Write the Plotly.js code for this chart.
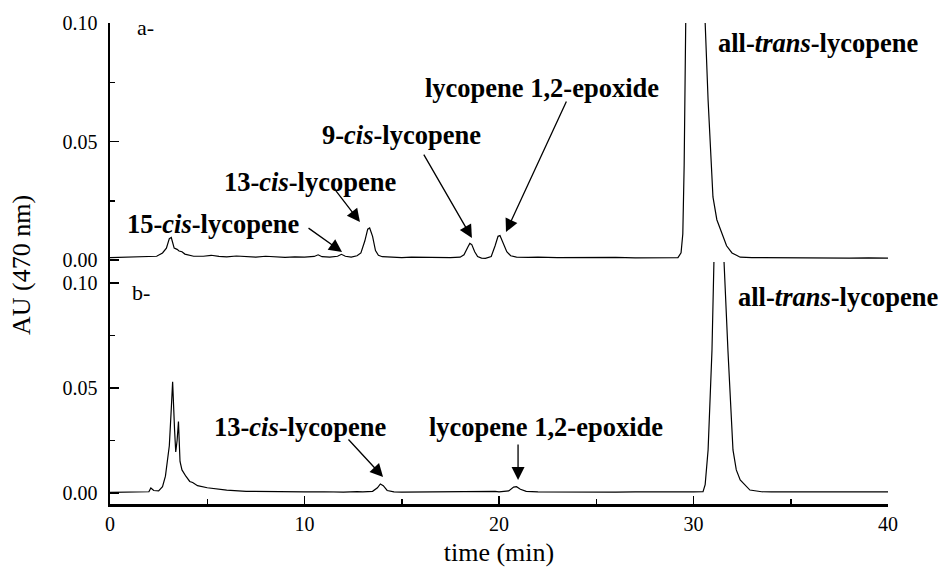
<!DOCTYPE html>
<html>
<head>
<meta charset="utf-8">
<script src="https://cdn.plot.ly/plotly-3.0.1.min.js"></script>
<style>html,body{margin:0;padding:0;background:#fff;}#chart{width:939px;height:574px;}</style>
</head>
<body>
<div id="chart"></div>
<script>
// Chromatogram a- (top panel): time (min) and absorbance (AU, 470 nm)
const timeA = [0.0,0.5,1.0,1.5,2.0,2.4,2.7,2.9,3.05,3.15,3.3,3.45,3.55,3.7,3.85,4.0,4.3,4.8,5.2,5.6,6.0,6.5,7.0,7.5,8.0,8.5,9.0,9.5,10.0,10.5,10.7,10.9,11.3,11.7,11.9,12.1,12.4,12.7,12.9,13.1,13.25,13.35,13.5,13.65,13.8,14.0,14.5,15.0,15.5,16.0,16.5,17.0,17.5,18.0,18.2,18.4,18.5,18.6,18.75,18.9,19.1,19.3,19.6,19.8,19.95,20.05,20.2,20.4,20.6,20.9,21.5,22.0,23.0,24.0,25.0,26.0,27.0,28.0,28.6,29.2,29.36,29.45,29.52,29.6,29.8,30.1,30.4,30.6,30.75,31.0,31.2,31.45,31.7,31.98,32.4,33.0,34.0,35.0,36.0,37.0,38.0,39.0,40.0];
const auA = [0.0010,0.0011,0.0012,0.0013,0.0012,0.0016,0.0030,0.0050,0.0090,0.0095,0.0050,0.0045,0.0038,0.0035,0.0025,0.0022,0.0016,0.0016,0.0020,0.0015,0.0013,0.0017,0.0014,0.0012,0.0016,0.0013,0.0011,0.0013,0.0012,0.0015,0.0022,0.0014,0.0012,0.0016,0.0024,0.0016,0.0012,0.0018,0.0030,0.0080,0.0130,0.0135,0.0100,0.0040,0.0020,0.0014,0.0012,0.0010,0.0012,0.0011,0.0010,0.0012,0.0010,0.0012,0.0022,0.0055,0.0070,0.0065,0.0035,0.0015,0.0008,0.0007,0.0015,0.0060,0.0100,0.0103,0.0075,0.0035,0.0018,0.0012,0.0011,0.0012,0.0010,0.0011,0.0010,0.0011,0.0009,0.0010,0.0010,0.0010,0.0030,0.0110,0.0400,0.1000,0.1800,0.2200,0.1600,0.1000,0.0675,0.0266,0.0170,0.0114,0.0060,0.0030,0.0012,0.0010,0.0009,0.0010,0.0008,0.0009,0.0008,0.0009,0.0008];

// Chromatogram b- (bottom panel)
const timeB = [0.0,1.0,2.0,2.1,2.25,2.5,2.7,2.85,2.95,3.0,3.05,3.15,3.22,3.32,3.38,3.45,3.52,3.6,3.7,3.9,4.1,4.25,4.5,5.0,5.5,6.0,7.0,8.0,9.0,10.0,11.0,12.0,12.7,13.0,13.5,13.75,13.9,14.05,14.25,14.6,15.0,16.0,17.0,18.0,19.0,19.8,20.0,20.5,20.75,20.9,21.1,21.4,22.0,23.0,24.0,25.0,26.0,27.0,28.0,29.0,30.0,30.49,30.6,30.75,30.95,31.05,31.15,31.3,31.45,31.57,31.77,32.03,32.2,32.4,32.9,33.5,34.0,35.0,36.0,37.0,38.0,39.0,40.0];
const auB = [0.0003,0.0004,0.0006,0.0024,0.0012,0.0010,0.0030,0.0080,0.0150,0.0210,0.0225,0.0400,0.0530,0.0300,0.0195,0.0250,0.0340,0.0150,0.0110,0.0080,0.0055,0.0050,0.0035,0.0025,0.0018,0.0014,0.0008,0.0006,0.0005,0.0005,0.0006,0.0004,0.0007,0.0005,0.0008,0.0025,0.0043,0.0035,0.0012,0.0005,0.0004,0.0005,0.0004,0.0006,0.0005,0.0008,0.0005,0.0010,0.0028,0.0030,0.0018,0.0008,0.0005,0.0004,0.0005,0.0004,0.0004,0.0005,0.0004,0.0004,0.0005,0.0006,0.0040,0.0205,0.0680,0.1100,0.1500,0.1700,0.1500,0.1100,0.0680,0.0205,0.0110,0.0062,0.0014,0.0006,0.0005,0.0005,0.0004,0.0005,0.0004,0.0005,0.0005];

// Tick values
const xTicks = [0, 10, 20, 30, 40];
const yTicks = [0.00, 0.05, 0.10];

// Peak labels
const labelPanels = ['y','y','y','y','y','y','y2','y2','y2','y2'];
const labelTexts = ['a-','<b>15-<i>cis</i>-lycopene</b>','<b>13-<i>cis</i>-lycopene</b>','<b>9-<i>cis</i>-lycopene</b>','<b>lycopene 1,2-epoxide</b>','<b>all-<i>trans</i>-lycopene</b>','b-','<b>all-<i>trans</i>-lycopene</b>','<b>13-<i>cis</i>-lycopene</b>','<b>lycopene 1,2-epoxide</b>'];
const labelX = [1.285, 0.77, 5.76, 19.18, 16.09, 31.16, 1.03, 32.19, 5.24, 16.30];
const labelY = [0.0983, 0.0152, 0.0329, 0.0527, 0.0726, 0.0916, 0.0957, 0.0933, 0.0314, 0.0314];
const labelAnchor = ['left','left','left','right','left','left','left','left','left','left'];

// Arrows: head (x,y) and tail (ax,ay) in data units
const arrowPanels = ['y','y','y','y','y2','y2'];
const arrowHeadX = [11.93, 12.85, 18.61, 20.36, 14.04, 20.98];
const arrowHeadY = [0.0034, 0.0160, 0.0093, 0.0118, 0.0076, 0.0062];
const arrowTailX = [10.13, 11.47, 16.09, 23.50, 12.19, 20.98];
const arrowTailY = [0.0139, 0.0308, 0.0451, 0.0675, 0.0262, 0.0238];

const FONT = 'Liberation Serif, Times New Roman, serif';

const traces = [
  {x: timeA, y: auA, xaxis: 'x', yaxis: 'y', mode: 'lines', line: {color: '#000', width: 1.2}, hoverinfo: 'skip'},
  {x: timeB, y: auB, xaxis: 'x', yaxis: 'y2', mode: 'lines', line: {color: '#000', width: 1.2}, hoverinfo: 'skip'}
];

const annotations = [];
for (let i = 0; i < labelTexts.length; i++) {
  const plain = labelTexts[i].indexOf('<b>') < 0;
  annotations.push({
    xref: 'x', yref: labelPanels[i], x: labelX[i], y: labelY[i],
    text: labelTexts[i], showarrow: false, xanchor: labelAnchor[i], yanchor: 'middle',
    font: {family: FONT, size: plain ? 22 : 26.5, color: '#000'}
  });
}
for (let i = 0; i < arrowHeadX.length; i++) {
  annotations.push({
    xref: 'x', yref: arrowPanels[i], x: arrowHeadX[i], y: arrowHeadY[i],
    axref: 'x', ayref: arrowPanels[i], ax: arrowTailX[i], ay: arrowTailY[i],
    text: '', showarrow: true, arrowhead: 2, arrowsize: 2.0, arrowwidth: 1.3,
    arrowcolor: '#000', standoff: 0, startstandoff: 0
  });
}
annotations.push({
  xref: 'paper', yref: 'paper', x: -0.113, y: 0.497, xanchor: 'center', yanchor: 'middle',
  text: 'AU (470 nm)', textangle: -90, showarrow: false,
  font: {family: FONT, size: 26, color: '#000'}
});

const yCommon = {
  showline: true, linecolor: '#000', linewidth: 2.5, ticks: 'inside', ticklen: 9, tickwidth: 1.5,
  tickcolor: '#000', tickvals: yTicks, tickformat: '.2f', showgrid: false, zeroline: false,
  tickfont: {family: FONT, size: 20, color: '#000'}, ticklabelstandoff: 6,
  minor: {ticks: 'inside', ticklen: 5, tickwidth: 1.5, tickcolor: '#000', dtick: 0.025, tick0: 0, showgrid: false},
  anchor: 'x', fixedrange: true
};

const layout = {
  width: 939, height: 574,
  margin: {l: 110, r: 51, t: 23, b: 70, pad: 0},
  paper_bgcolor: '#fff', plot_bgcolor: '#fff',
  showlegend: false,
  font: {family: FONT, color: '#000'},
  xaxis: {
    range: [0, 40], anchor: 'y2', showline: true, linecolor: '#000', linewidth: 2.5,
    ticks: 'inside', ticklen: 8, tickwidth: 1.5, tickcolor: '#000', tickvals: xTicks,
    showgrid: false, zeroline: false, tickfont: {family: FONT, size: 20, color: '#000'},
    minor: {ticks: 'inside', ticklen: 5, tickwidth: 1.5, tickcolor: '#000', dtick: 5, tick0: 0, showgrid: false},
    title: {text: 'time (min)', font: {family: FONT, size: 26, color: '#000'}, standoff: 10},
    fixedrange: true
  },
  yaxis: Object.assign({}, yCommon, {domain: [0.5031, 1], range: [-0.00084, 0.10]}),
  yaxis2: Object.assign({}, yCommon, {domain: [0, 0.5031], range: [-0.00524, 0.11]}),
  annotations: annotations
};

Plotly.newPlot('chart', traces, layout, {displayModeBar: false, staticPlot: true});
</script>
</body>
</html>
